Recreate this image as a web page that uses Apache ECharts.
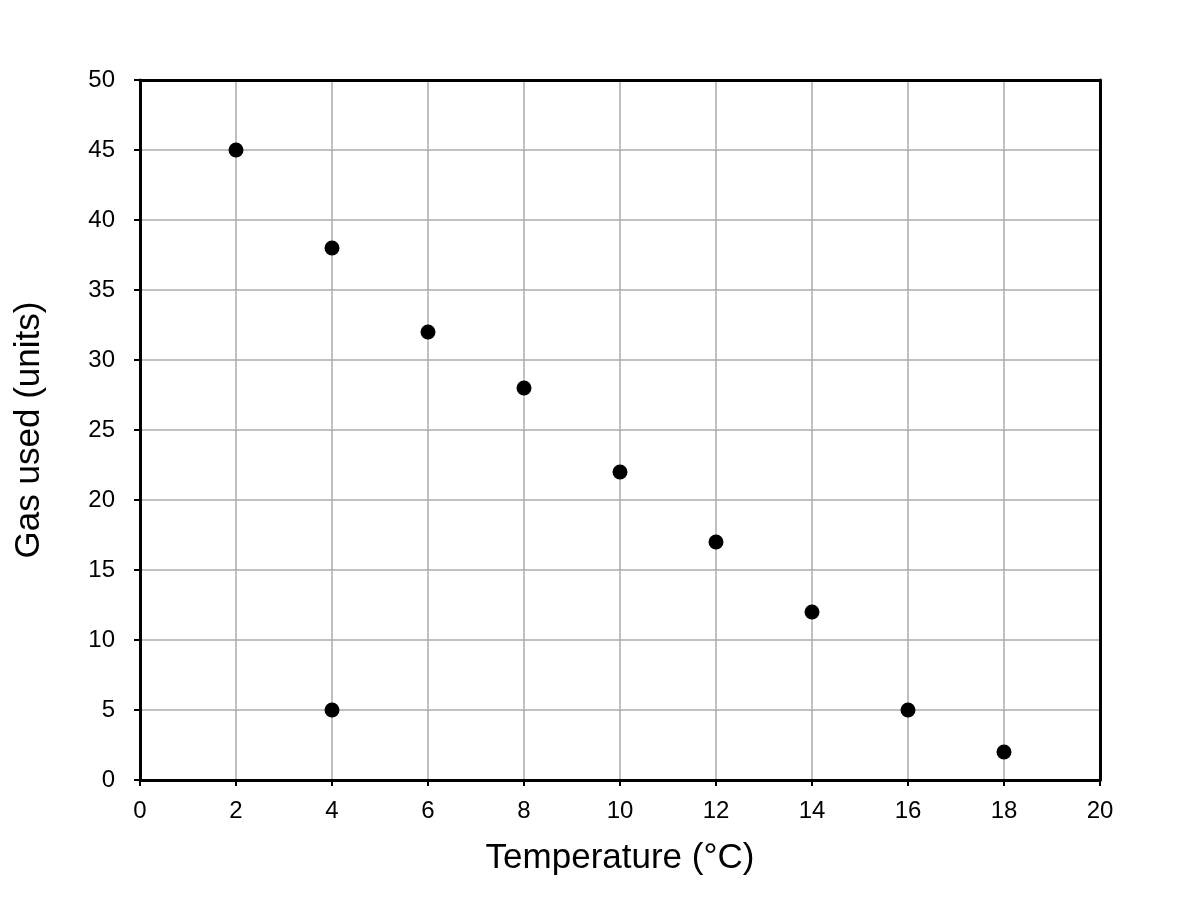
<!DOCTYPE html>
<html>
<head>
<meta charset="utf-8">
<script src="https://cdn.jsdelivr.net/npm/echarts@6/dist/echarts.min.js"></script>
<style>
  html, body { margin: 0; padding: 0; background: #fff; }
  #chart { width: 1200px; height: 900px; }
</style>
</head>
<body>
<div id="chart"></div>
<script>
// temperature (°C) and gas used (units)
const temperature = [2, 4, 6, 8, 10, 12, 14, 16, 18, 4];
const gasUsed = [45, 38, 32, 28, 22, 17, 12, 5, 2, 5];

const xTitle = 'Temperature (°C)';
const yTitle = 'Gas used (units)';

const points = temperature.map((t, i) => [t, gasUsed[i]]);

const font = 'Liberation Sans, Arial, Helvetica, sans-serif';
const spine = { show: true, onZero: false, lineStyle: { color: '#000', width: 3 } };
const grey = { show: true, lineStyle: { color: '#ababab', width: 1.5 } };

const chart = echarts.init(document.getElementById('chart'));
chart.setOption({
  animation: false,
  backgroundColor: '#fff',
  grid: { left: 140, right: 100, top: 80, bottom: 120 },
  xAxis: [{
    type: 'value',
    min: 0, max: 20, interval: 2,
    name: xTitle,
    nameLocation: 'middle',
    nameGap: 61,
    nameTextStyle: { fontFamily: font, fontSize: 35, color: '#000' },
    axisLine: spine,
    axisTick: { show: true, length: 6, lineStyle: { color: '#000', width: 2 } },
    axisLabel: { fontFamily: font, fontSize: 24, color: '#000', margin: 19 },
    splitLine: grey,
    z: 3,
  }, {
    // top frame line
    type: 'value', position: 'top',
    min: 0, max: 20, interval: 2,
    axisLine: spine, axisTick: { show: false }, axisLabel: { show: false },
    splitLine: { show: false },
    z: 4,
  }],
  yAxis: [{
    type: 'value',
    min: 0, max: 50, interval: 5,
    name: yTitle,
    nameLocation: 'middle',
    nameGap: 93,
    nameTextStyle: { fontFamily: font, fontSize: 35, color: '#000' },
    axisLine: spine,
    axisTick: { show: true, length: 6, lineStyle: { color: '#000', width: 2 } },
    axisLabel: { fontFamily: font, fontSize: 24, color: '#000', margin: 25 },
    splitLine: grey,
    z: 3,
  }, {
    // right frame line
    type: 'value', position: 'right',
    min: 0, max: 50, interval: 5,
    axisLine: spine, axisTick: { show: false }, axisLabel: { show: false },
    splitLine: { show: false },
    z: 4,
  }],
  series: [{
    type: 'scatter',
    data: points,
    symbol: 'circle',
    symbolSize: 15,
    itemStyle: { color: '#000', opacity: 1 },
    z: 5,
  }],
});
</script>
</body>
</html>
